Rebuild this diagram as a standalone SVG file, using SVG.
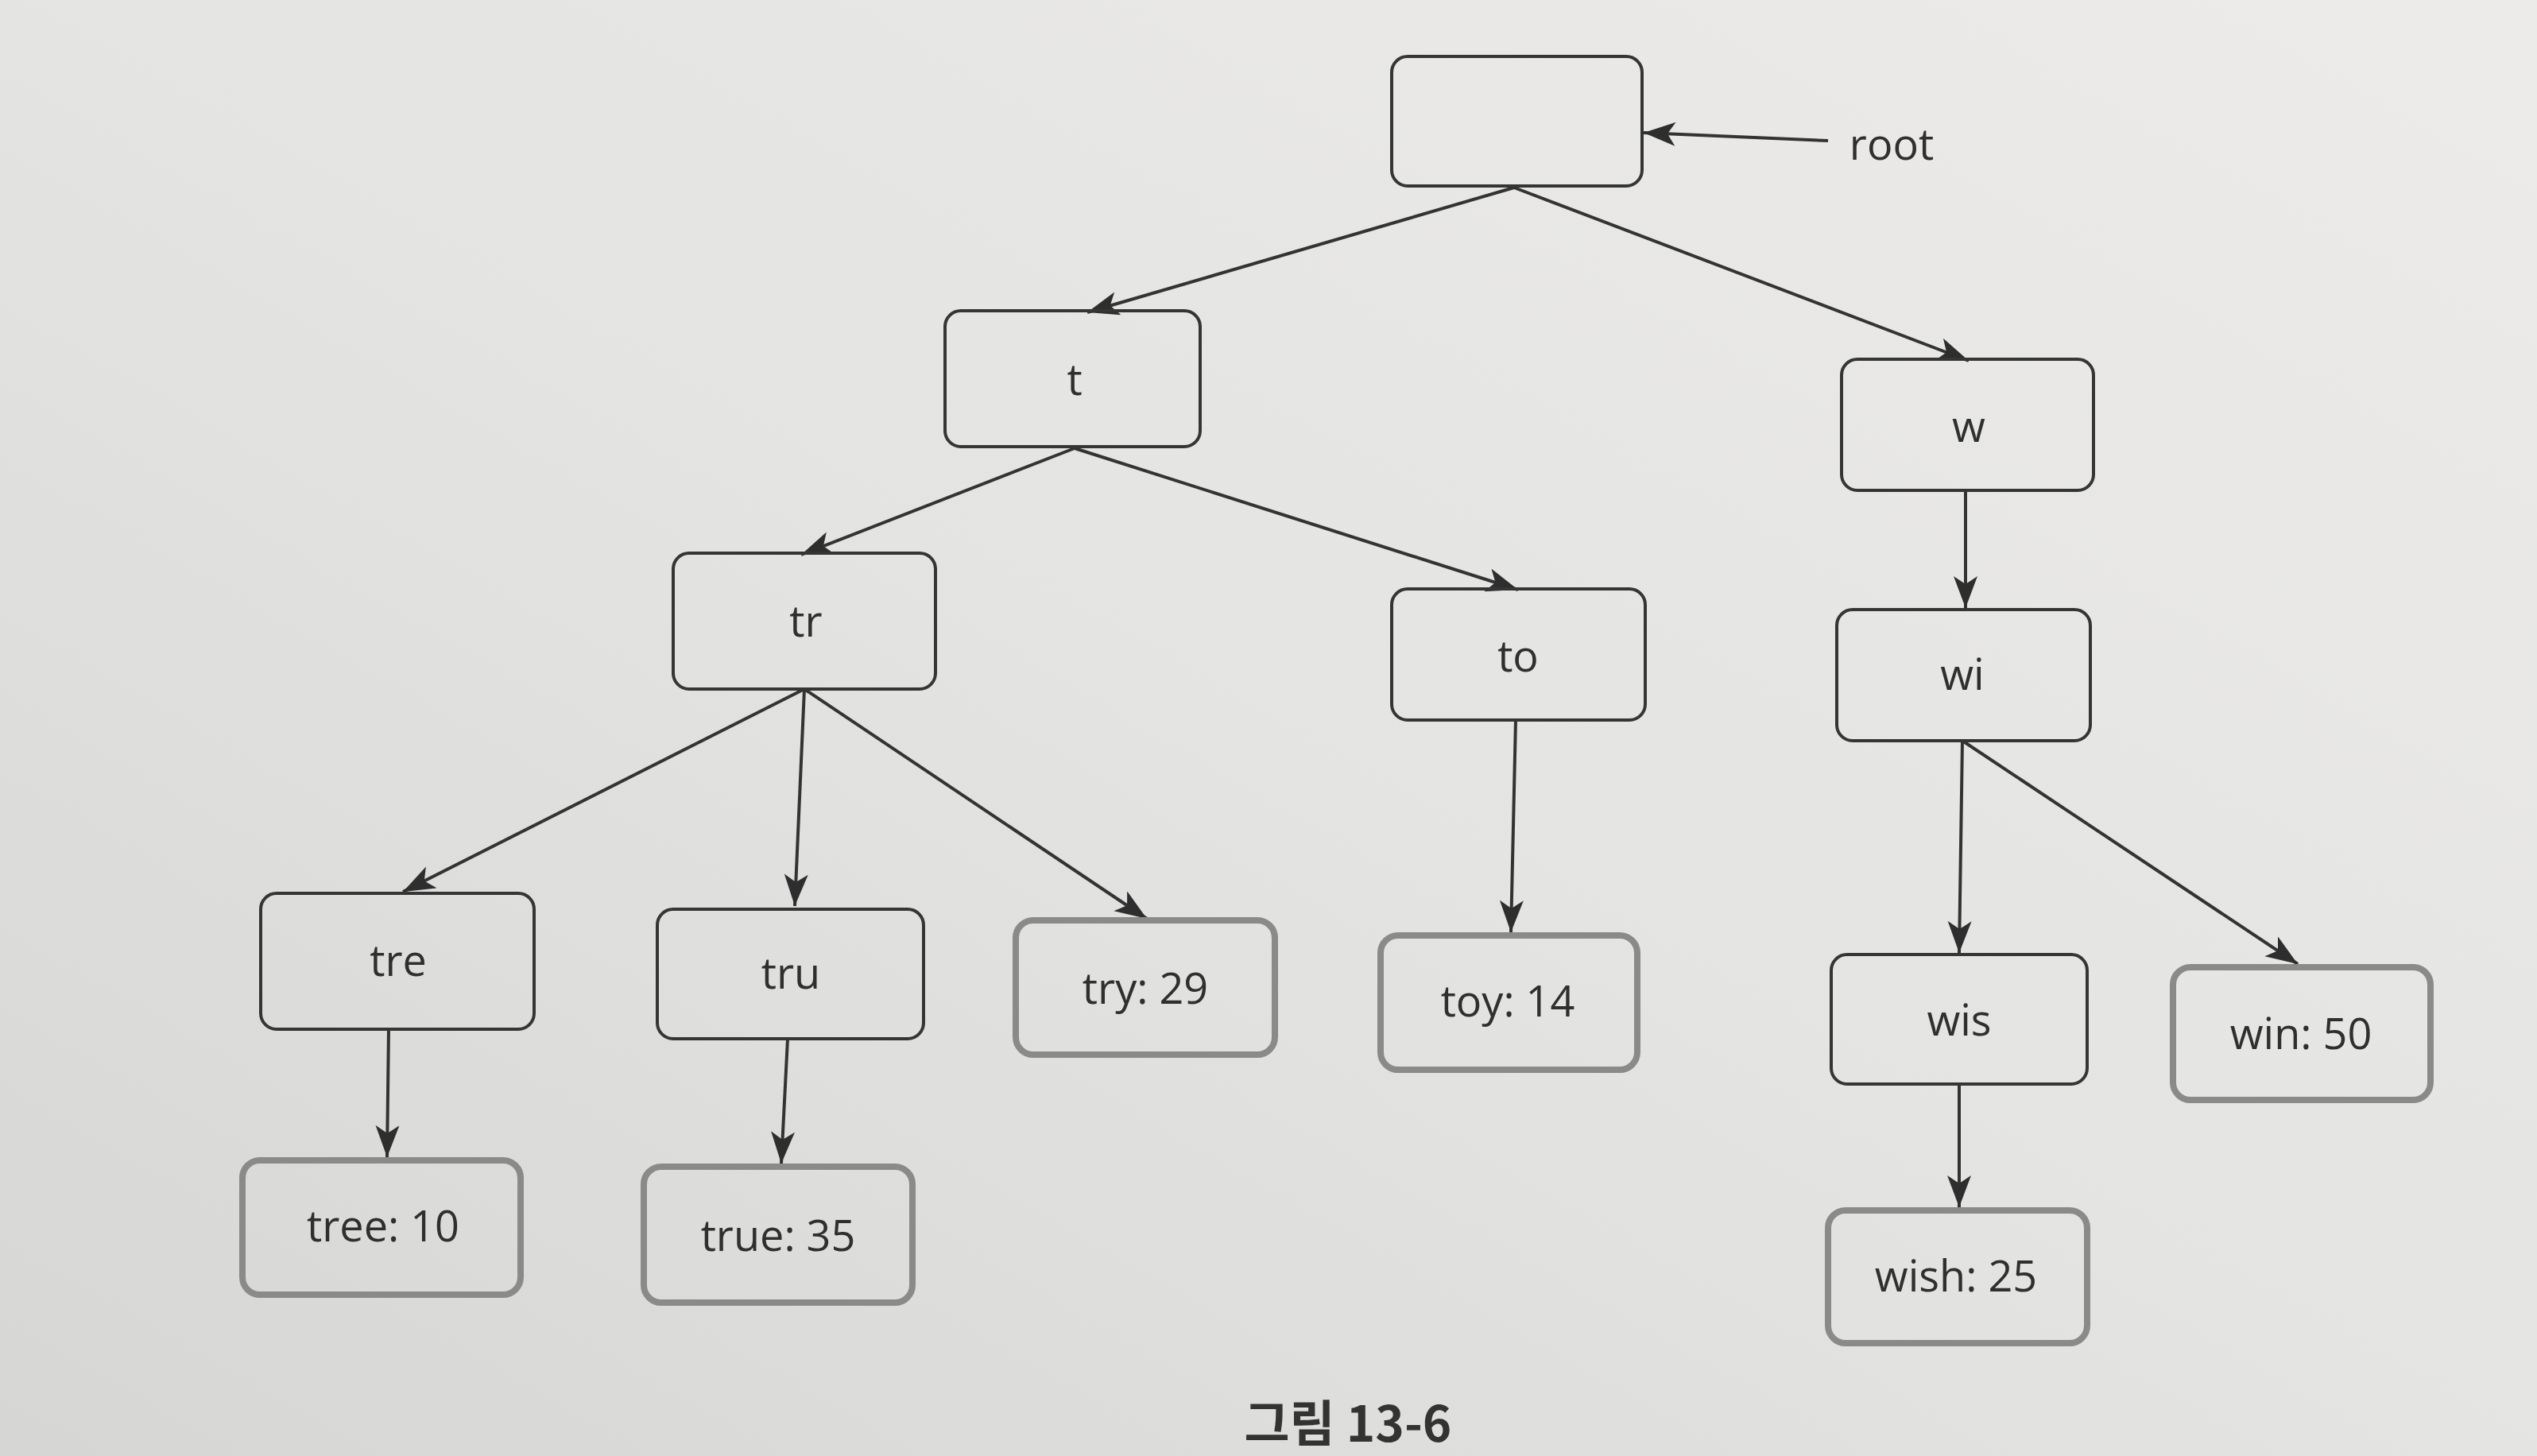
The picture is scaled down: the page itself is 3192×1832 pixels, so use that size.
<svg xmlns="http://www.w3.org/2000/svg" width="3192" height="1832" viewBox="0 0 3192 1832">
<defs>
<linearGradient id="bg" x1="1" y1="0" x2="0" y2="1">
<stop offset="0" stop-color="#ecebe9"/>
<stop offset="0.5" stop-color="#e4e4e2"/>
<stop offset="1" stop-color="#d6d6d4"/>
</linearGradient>
<marker id="ah" markerUnits="userSpaceOnUse" markerWidth="44" markerHeight="32" refX="40" refY="15" orient="auto">
<path d="M0,0 L40,15 L0,30 L10,15 z" fill="#2e2e2e"/>
</marker>
</defs>
<style>
.n{fill:none;stroke:#353535;stroke-width:4}
.l{fill:none;stroke:#8a8a8a;stroke-width:8}
.t{font-family:"Open Sans","Noto Sans",sans-serif;font-size:54px;fill:#2f2f2f;text-anchor:middle;dominant-baseline:central}
.e{stroke:#333;stroke-width:4;fill:none;marker-end:url(#ah)}
.cap{font-family:"Noto Sans CJK KR","Noto Sans",sans-serif;font-size:62px;font-weight:bold;fill:#333;text-anchor:middle;dominant-baseline:central}
</style>
<rect width="3192" height="1832" fill="url(#bg)"/>
<g id="connectors">
<line class="e" x1="2300" y1="177" x2="2068" y2="167"/>
<line class="e" x1="1905" y1="236" x2="1368" y2="393"/>
<line class="e" x1="1905" y1="236" x2="2477" y2="454"/>
<line class="e" x1="1352" y1="564" x2="1008" y2="698"/>
<line class="e" x1="1352" y1="564" x2="1910" y2="742"/>
<line class="e" x1="2473" y1="617" x2="2473" y2="765"/>
<line class="e" x1="1012" y1="867" x2="507" y2="1122"/>
<line class="e" x1="1012" y1="867" x2="1000" y2="1140"/>
<line class="e" x1="1012" y1="867" x2="1443" y2="1156"/>
<line class="e" x1="1907" y1="906" x2="1901" y2="1173"/>
<line class="e" x1="2469" y1="932" x2="2465" y2="1199"/>
<line class="e" x1="2469" y1="932" x2="2891" y2="1213"/>
<line class="e" x1="489" y1="1295" x2="487" y2="1456"/>
<line class="e" x1="991" y1="1307" x2="983" y2="1464"/>
<line class="e" x1="2465" y1="1364" x2="2465" y2="1519"/>
</g>
<text class="t" x="2380" y="180">root</text>
<g id="node-root"><rect class="n" x="1751" y="71" width="315" height="163" rx="20"/></g>
<g id="node-t"><rect class="n" x="1189" y="391" width="321" height="171" rx="20"/><text class="t" x="1352" y="476">t</text></g>
<g id="node-w"><rect class="n" x="2317" y="452" width="317" height="165" rx="20"/><text class="t" x="2477" y="535">w</text></g>
<g id="node-tr"><rect class="n" x="847" y="696" width="330" height="171" rx="20"/><text class="t" x="1014" y="780">tr</text></g>
<g id="node-to"><rect class="n" x="1751" y="741" width="319" height="165" rx="20"/><text class="t" x="1910" y="824">to</text></g>
<g id="node-wi"><rect class="n" x="2311" y="767" width="319" height="165" rx="20"/><text class="t" x="2469" y="847">wi</text></g>
<g id="node-tre"><rect class="n" x="328" y="1124" width="344" height="171" rx="20"/><text class="t" x="501" y="1207">tre</text></g>
<g id="node-tru"><rect class="n" x="827" y="1144" width="335" height="163" rx="20"/><text class="t" x="995" y="1223">tru</text></g>
<g id="node-try"><rect class="l" x="1278" y="1158" width="326" height="169" rx="22"/><text class="t" x="1441" y="1242">try: 29</text></g>
<g id="node-toy"><rect class="l" x="1737" y="1177" width="323" height="169" rx="22"/><text class="t" x="1897" y="1258">toy: 14</text></g>
<g id="node-wis"><rect class="n" x="2304" y="1201" width="322" height="163" rx="20"/><text class="t" x="2465" y="1282">wis</text></g>
<g id="node-win"><rect class="l" x="2734" y="1217" width="324" height="167" rx="22"/><text class="t" x="2895" y="1299">win: 50</text></g>
<g id="node-tree"><rect class="l" x="305" y="1460" width="350" height="169" rx="22"/><text class="t" x="482" y="1541">tree: 10</text></g>
<g id="node-true"><rect class="l" x="810" y="1468" width="338" height="171" rx="22"/><text class="t" x="979" y="1553">true: 35</text></g>
<g id="node-wish"><rect class="l" x="2300" y="1523" width="326" height="167" rx="22"/><text class="t" x="2461" y="1604">wish: 25</text></g>
<text class="cap" x="1696" y="1787">그림 13-6</text>
</svg>
